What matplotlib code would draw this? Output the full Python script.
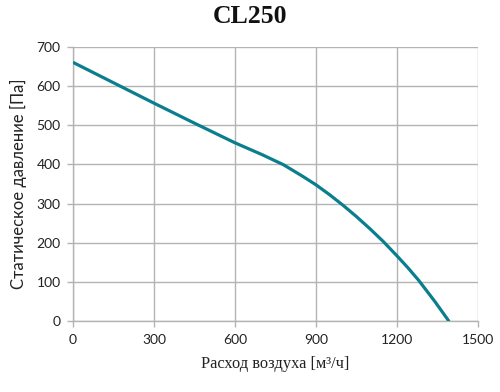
import matplotlib
matplotlib.use("Agg")
import matplotlib.pyplot as plt

flow = [0, 150, 300, 450, 600, 700, 780, 850, 900, 950, 1000, 1050, 1100, 1150, 1200, 1240, 1280, 1340, 1393]
pressure = [660, 608, 556, 505, 455, 425, 399, 370, 348, 323, 296, 267, 236, 203, 167, 137, 105, 51, 0]
xticks = [0, 300, 600, 900, 1200, 1500]
yticks = [0, 100, 200, 300, 400, 500, 600, 700]

fig = plt.figure(figsize=(5, 3.92), dpi=100)
ax = fig.add_axes([0.146, 0.180, 0.810, 0.701])

ax.plot(flow, pressure, color="#0B7E8E", lw=2.3, solid_capstyle="butt",
        solid_joinstyle="round", zorder=3)

ax.set_xlim(0, 1500)
ax.set_ylim(0, 700)
ax.set_xticks(xticks)
ax.set_yticks(yticks)
ax.grid(True, color="#b3b3b3", lw=1.0)
ax.set_axisbelow(True)
for s in ["top", "right"]:
    ax.spines[s].set_visible(False)
for s in ["left", "bottom"]:
    ax.spines[s].set_color("#b3b3b3")
    ax.spines[s].set_linewidth(1.0)
ax.tick_params(axis="both", direction="out", length=4, width=1.0, color="#b3b3b3",
               labelsize=10, pad=5)
for lab in ax.get_xticklabels() + ax.get_yticklabels():
    lab.set_family("Lato")
    lab.set_color("#222222")

ax.set_xlabel("Расход воздуха [м³/ч]", family="Liberation Serif", fontsize=11.8, labelpad=7, color="#222222")
ax.set_ylabel("Статическое давление [Па]", family="Lato", fontsize=12, labelpad=7, color="#222222")
fig.text(0.5, 0.958, "CL250", ha="center", va="center", family="Liberation Serif",
         fontweight="bold", fontsize=18.5, color="#111111")

fig.savefig("out.png", dpi=100)
